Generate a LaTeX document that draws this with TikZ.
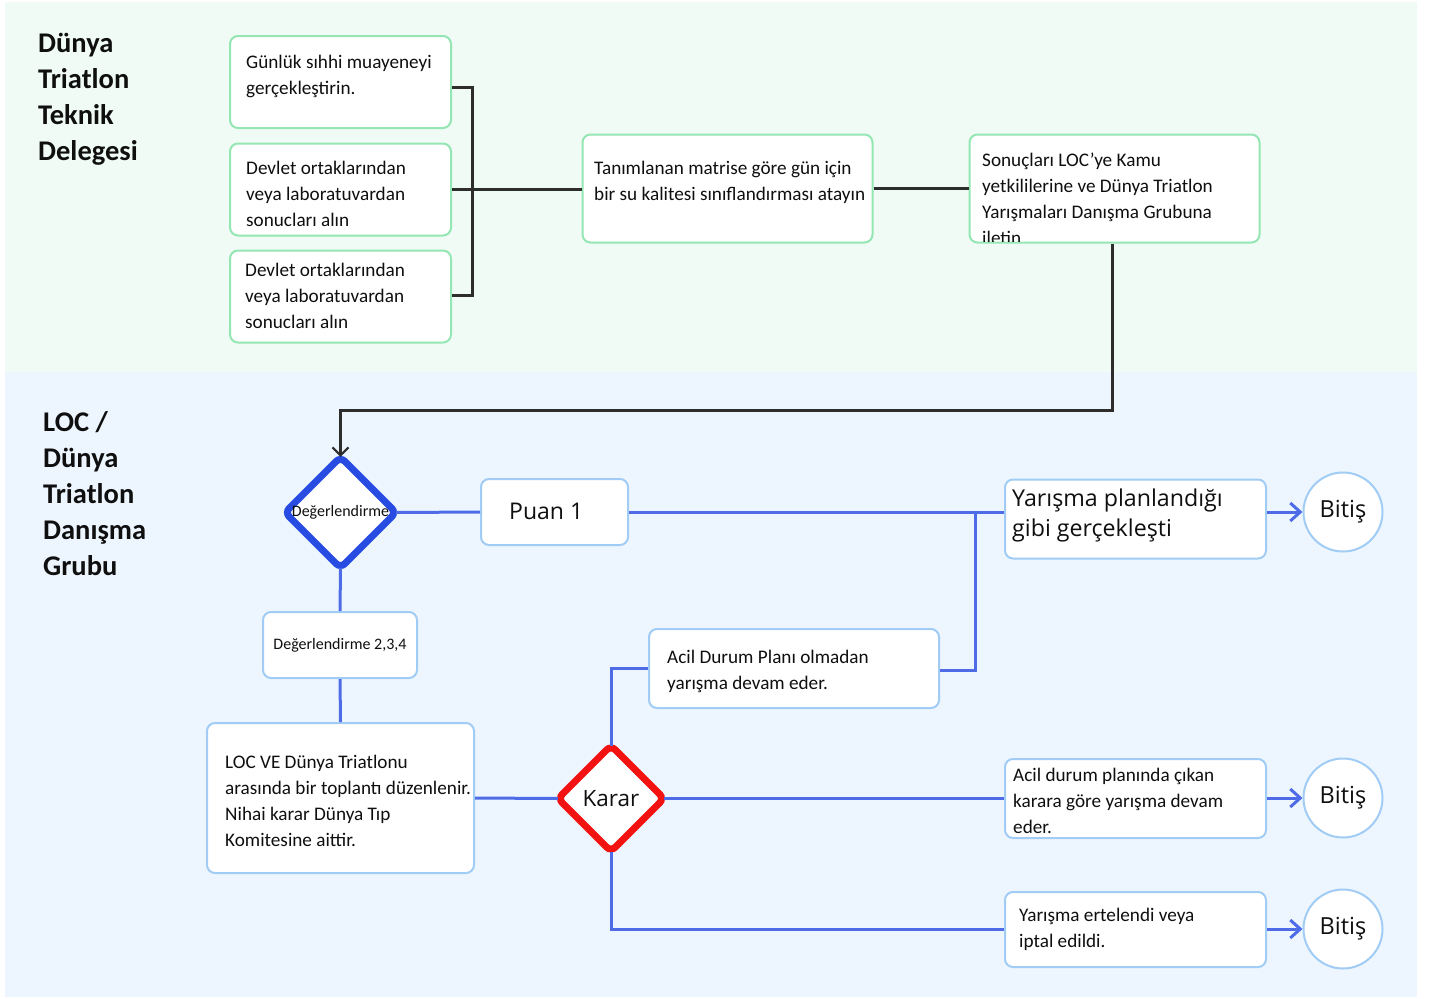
\documentclass[tikz,border=0pt]{standalone}
\usepackage{fontspec}
\setmainfont{Carlito}
\newfontfamily\osans{Open Sans}
\usetikzlibrary{shapes.geometric,arrows.meta}
\definecolor{lanegreen}{RGB}{240,251,245}
\definecolor{laneblue}{RGB}{237,246,254}
\definecolor{gborder}{RGB}{148,230,178}
\definecolor{bborder}{RGB}{160,204,245}
\definecolor{lcol}{RGB}{78,108,232}
\definecolor{dblue}{RGB}{40,76,226}
\definecolor{dred}{RGB}{242,18,18}
\definecolor{kcol}{RGB}{45,45,45}
\definecolor{txtc}{RGB}{15,15,15}
\begin{document}
\begin{tikzpicture}[x=1pt,y=-1pt,
  gbox/.style={rectangle, draw=gborder, line width=2pt, fill=white, rounded corners=8pt, inner sep=0pt},
  bbox/.style={rectangle, draw=bborder, line width=2pt, fill=white, rounded corners=8pt, inner sep=0pt},
  btxt/.style={anchor=north west, inner sep=0pt, align=left, text=txtc, font=\fontsize{19.2}{26}\selectfont},
  lanetxt/.style={anchor=north west, inner sep=0pt, align=left, text=txtc, font=\bfseries\fontsize{28.5}{36}\selectfont},
  kline/.style={draw=kcol, line width=3pt},
  bline/.style={draw=lcol, line width=3pt},
  barrow/.style={bline, -{Straight Barb[length=10pt,width=18pt,line width=3pt]}},
  karrow/.style={kline, -{Straight Barb[length=8pt,width=16pt,line width=2.2pt]}},
  dia/.style={diamond, fill=white, inner sep=0pt, outer sep=0pt, minimum width=106pt, minimum height=106pt, rounded corners=6pt, line width=7pt, text=txtc},
  endc/.style={circle, draw=bborder, line width=2pt, fill=white, minimum size=79pt, inner sep=0pt, text=txtc, font=\osans\fontsize{23.5}{26}\selectfont},
]
\useasboundingbox (0,0) rectangle (1433,999);
\fill[white] (0,0) rectangle (1433,999);
\fill[lanegreen] (5,2) rectangle (1417,372);
\fill[laneblue] (5,372) rectangle (1417,997);

% lane labels
\node[lanetxt] (lane1) at (38,33) {Dünya\\Triatlon\\Teknik\\Delegesi};
\node[lanetxt] (lane2) at (43,411) {LOC /\\Dünya\\Triatlon\\Danışma\\Grubu};

% top lane boxes
\node[gbox, minimum width=221pt, minimum height=92pt] (b1) at (340.5,82) {};
\node[gbox, minimum width=221pt, minimum height=92pt] (b2) at (340.5,189.5) {};
\node[gbox, minimum width=221pt, minimum height=92pt] (b3) at (340.5,296.5) {};
\node[gbox, minimum width=290pt, minimum height=108pt] (b4) at (727.5,188.5) {};
\node[gbox, minimum width=290pt, minimum height=108pt] (b5) at (1114.5,188.5) {};
\node[btxt] (t1) at (246,55) {Günlük sıhhi muayeneyi\\gerçekleştirin.};
\node[btxt] (t2) at (246,161) {Devlet ortaklarından\\veya laboratuvardan\\sonucları alın};
\node[btxt] (t3) at (245,263) {Devlet ortaklarından\\veya laboratuvardan\\sonucları alın};
\node[btxt] (t4) at (594,161) {Tanımlanan matrise göre gün için\\bir su kalitesi sınıflandırması atayın};
\begin{scope}
\clip ([yshift=2pt]b5.south west) rectangle (b5.north east);
\node[btxt] (t5) at (982,153) {Sonuçları LOC'ye Kamu\\yetkililerine ve Dünya Triatlon\\Yarışmaları Danışma Grubuna\\iletin};
\end{scope}

% bottom lane nodes
\node[dia, draw=dblue, font=\fontsize{16}{18}\selectfont] (d1) at (340.5,512.5) {Değerlendirme};
\node[bbox, minimum width=147pt, minimum height=66pt] (puan) at (554.5,512) {};
\node[anchor=west, inner sep=0pt, text=txtc, font=\osans\fontsize{23}{26}\selectfont] (puant) at (509,511) {Puan 1};
\node[bbox, minimum width=261pt, minimum height=79pt] (y1) at (1135.5,519) {};
\node[anchor=north west, inner sep=0pt, align=left, text=txtc, font=\osans\fontsize{23.2}{29.5}\selectfont] (y1t) at (1012,489) {Yarışma planlandığı\\gibi gerçekleşti};
\node[endc] (c1) at (1343,512) {Bitiş};

\node[bbox, minimum width=154pt, minimum height=66pt, text=txtc, font=\fontsize{16}{18}\selectfont] (d234) at (340,645) {Değerlendirme 2,3,4};
\node[bbox, minimum width=267pt, minimum height=150pt] (loc) at (340.5,798) {};
\node[btxt] (loct) at (225,755) {LOC VE Dünya Triatlonu\\arasında bir toplantı düzenlenir.\\Nihai karar Dünya Tıp\\Komitesine aittir.};
\node[dia, draw=dred, font=\osans\fontsize{22.5}{26}\selectfont] (karar) at (611,798.5) {Karar};

\node[bbox, minimum width=290pt, minimum height=79pt] (acil) at (794,668.5) {};
\node[btxt] (acilt) at (667,650) {Acil Durum Planı olmadan\\yarışma devam eder.};

\node[bbox, minimum width=261pt, minimum height=79pt] (ad) at (1135.5,798.5) {};
\node[btxt] (adt) at (1013,768) {Acil durum planında çıkan\\karara göre yarışma devam\\eder.};
\node[endc] (c2) at (1343,798) {Bitiş};

\node[bbox, minimum width=261pt, minimum height=75pt] (er) at (1135.5,929.5) {};
\node[btxt] (ert) at (1019,908) {Yarışma ertelendi veya\\iptal edildi.};
\node[endc] (c3) at (1343,929) {Bitiş};

% black connectors (top lane)
\coordinate (jt) at (472,87);
\coordinate (jb) at (472,295);
\draw[kline] (b1.east |- jt) -- (jt) -- (jb) -- (b3.east |- jb);
\draw[kline] (b2.east) -- (b2.east -| b4.west);
\draw[kline] (b4.east) -- (b5.west);
\coordinate (kt) at (1112,410);
\draw[karrow] (b5.south -| kt) -- (kt) -| (d1.north);

% blue connectors
\draw[bline] (d1.east) -- (puan.west);
\draw[bline] (puan.east) -- (puan.east -| y1.west);
\coordinate (jv) at (975,512);
\coordinate (jv2) at (975,670);
\draw[bline] (acil.east |- jv2) -- (jv2) -- (jv);
\draw[barrow] (y1.east |- c1) -- (c1.west);
\draw[bline] (d1.south) -- (d234.north);
\draw[bline] (d234.south) -- (loc.north);
\draw[bline] (loc.east) -- (karar.west);
\draw[bline] (karar.north) |- (acil.west);
\draw[bline] (karar.east) -- (karar.east -| ad.west);
\draw[barrow] (ad.east |- c2) -- (c2.west);
\draw[bline] (karar.south) |- (er.west);
\draw[barrow] (er.east |- c3) -- (c3.west);
\end{tikzpicture}
\end{document}
